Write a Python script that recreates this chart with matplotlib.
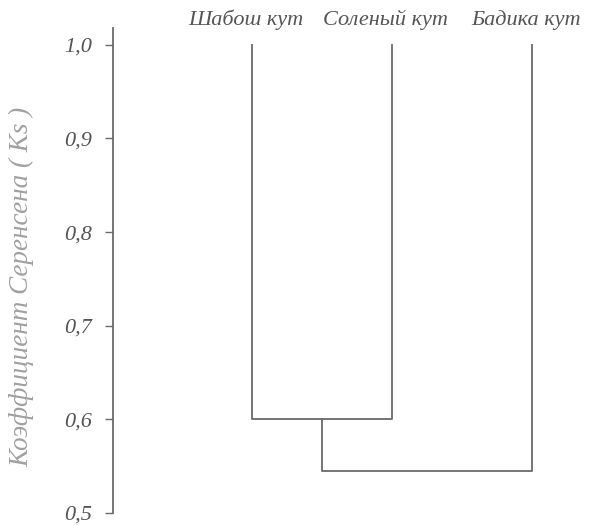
import matplotlib
matplotlib.use("Agg")
import matplotlib.pyplot as plt
from matplotlib.transforms import offset_copy

# Data
leaves = ["Шабош кут", "Соленый кут", "Бадика кут"]
leaf_top = 1.0
merge1_height = 0.60      # Шабош кут + Соленый кут
merge2_height = 0.545     # (Шабош + Соленый) + Бадика кут
yticks = [0.5, 0.6, 0.7, 0.8, 0.9, 1.0]
ytick_labels = ["0,5", "0,6", "0,7", "0,8", "0,9", "1,0"]
ylabel = "Коэффициент Серенсена ( Ks )"

line_color = "#6a6a6a"
text_color = "#555555"
font = ["Liberation Serif", "DejaVu Serif"]

fig = plt.figure(figsize=(5.92, 5.25), dpi=100)
ax = fig.add_axes([113/592, 12/525, 467/592, (513-28)/525])

xs = [5, 15, 25]
ax.plot([xs[0], xs[0], xs[1], xs[1]],
        [leaf_top, merge1_height, merge1_height, leaf_top],
        color=line_color, lw=1.3)
mid = (xs[0] + xs[1]) / 2
ax.plot([mid, mid, xs[2], xs[2]],
        [merge1_height, merge2_height, merge2_height, leaf_top],
        color=line_color, lw=1.3)

ax.set_xlim(-4.93, 28.43)
ax.set_ylim(0.5, 1.018)
ax.set_xticks([])
ax.set_yticks(yticks)
ax.set_yticklabels(ytick_labels, fontsize=16, fontstyle="italic",
                   family=font, color=text_color)
ax.tick_params(axis="y", length=6, width=1, color=line_color, pad=9)

for s in ["top", "right", "bottom"]:
    ax.spines[s].set_visible(False)
ax.spines["left"].set_color(line_color)
ax.spines["left"].set_linewidth(1.3)

tr = offset_copy(ax.transData, fig=fig, x=-6, y=0, units="dots")
for x, lab in zip(xs, leaves):
    ax.text(x, 1.027, lab, ha="center", va="center", fontsize=16,
            fontstyle="italic", family=font, color=text_color,
            clip_on=False, transform=tr)

fig.text(22/592, 1 - 287/525, ylabel, rotation=90, ha="center", va="center",
         fontsize=19.5, fontstyle="italic", family=font, color="#a0a0a0")

fig.savefig("out.png", dpi=100)
